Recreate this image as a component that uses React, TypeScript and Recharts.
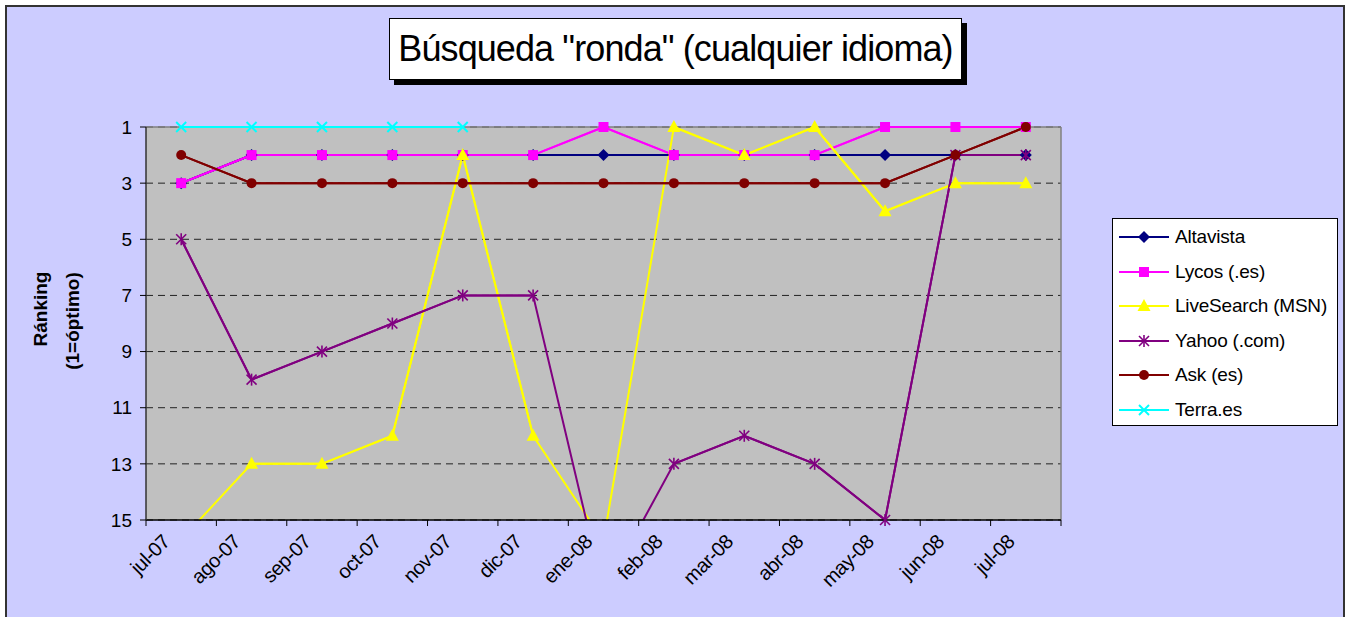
import { LineChart, Line, XAxis, YAxis, CartesianGrid, Legend } from 'recharts';

const months = ['jul-07', 'ago-07', 'sep-07', 'oct-07', 'nov-07', 'dic-07', 'ene-08', 'feb-08', 'mar-08', 'abr-08', 'may-08', 'jun-08', 'jul-08'];
const altavista = [3, 2, 2, 2, 2, 2, 2, 2, 2, 2, 2, 2, 2];
const lycos = [3, 2, 2, 2, 2, 2, 1, 2, 2, 2, 1, 1, 1];
const liveSearch = [15.7, 13, 13, 12, 2, 12, 15.75, 1, 2, 1, 4, 3, 3];
const yahoo = [5, 10, 9, 8, 7, 7, 17.6, 13, 12, 13, 15, 2, 2];
const ask = [2, 3, 3, 3, 3, 3, 3, 3, 3, 3, 3, 2, 1];
const terra = [1, 1, 1, 1, 1, 0, null, null, null, null, null, null, null];
const yTicks = [1, 3, 5, 7, 9, 11, 13, 15];

const FONT = "'Liberation Sans', Arial, sans-serif";
const PLOT_L = 146;
const PLOT_R = 1061;
const PLOT_T = 127;
const BAND = (PLOT_R - PLOT_L) / months.length;

type Shape = 'diamond' | 'square' | 'triangle' | 'star' | 'circle' | 'cross';

const SERIES: { key: string; name: string; color: string; shape: Shape; values: (number | null)[] }[] = [
  { key: 'altavista', name: 'Altavista', color: '#000080', shape: 'diamond', values: altavista },
  { key: 'lycos', name: 'Lycos (.es)', color: '#FF00FF', shape: 'square', values: lycos },
  { key: 'liveSearch', name: 'LiveSearch (MSN)', color: '#FFFF00', shape: 'triangle', values: liveSearch },
  { key: 'yahoo', name: 'Yahoo (.com)', color: '#800080', shape: 'star', values: yahoo },
  { key: 'ask', name: 'Ask (es)', color: '#800000', shape: 'circle', values: ask },
  { key: 'terra', name: 'Terra.es', color: '#00FFFF', shape: 'cross', values: terra },
];

// in-range copy of each series: drawn unclipped (markers + segments on the plot edge),
// the full series is drawn on the clipped axis for the parts that leave the plot
const inRange = (v: number | null) => (v != null && v >= 1 && v <= 15 ? v : null);

const data = months.map((month, i) => {
  const row: any = { month };
  SERIES.forEach((s) => {
    row[s.key] = s.values[i];
    row[s.key + '_m'] = inRange(s.values[i]);
  });
  return row;
});

function Marker({ cx, cy, shape, color }: { cx: number; cy: number; shape: Shape; color: string }) {
  switch (shape) {
    case 'diamond':
      return <polygon points={`${cx},${cy - 6} ${cx + 6},${cy} ${cx},${cy + 6} ${cx - 6},${cy}`} fill={color} />;
    case 'square':
      return <rect x={cx - 5} y={cy - 5} width={10} height={10} fill={color} />;
    case 'triangle':
      return <polygon points={`${cx},${cy - 7} ${cx + 6.5},${cy + 5} ${cx - 6.5},${cy + 5}`} fill={color} />;
    case 'star':
      return (
        <g stroke={color} strokeWidth={1.6}>
          <line x1={cx - 5} y1={cy - 5} x2={cx + 5} y2={cy + 5} />
          <line x1={cx - 5} y1={cy + 5} x2={cx + 5} y2={cy - 5} />
          <line x1={cx} y1={cy - 6} x2={cx} y2={cy + 6} />
        </g>
      );
    case 'circle':
      return <circle cx={cx} cy={cy} r={5} fill={color} />;
    case 'cross':
      return (
        <g stroke={color} strokeWidth={2}>
          <line x1={cx - 5} y1={cy - 5} x2={cx + 5} y2={cy + 5} />
          <line x1={cx - 5} y1={cy + 5} x2={cx + 5} y2={cy - 5} />
        </g>
      );
  }
  return null;
}

const makeDot = (shape: Shape, color: string) => (p: any) => {
  if (p.cy == null || p.value == null) return <g key={p.index} />;
  return (
    <g key={p.index}>
      <Marker cx={p.cx} cy={p.cy} shape={shape} color={color} />
    </g>
  );
};

function MonthTick(props: any) {
  const { x, y, payload, index } = props;
  const tx = x - 15;
  const ty = y + 18;
  return (
    <g>
      <line x1={x - BAND / 2} y1={y} x2={x - BAND / 2} y2={y + 6} stroke="#000" />
      {index === months.length - 1 && <line x1={x + BAND / 2} y1={y} x2={x + BAND / 2} y2={y + 6} stroke="#000" />}
      <text
        x={tx}
        y={ty}
        transform={`rotate(-45 ${tx} ${ty})`}
        textAnchor="end"
        dominantBaseline="central"
        fontSize={20}
        letterSpacing={-0.5}
        fontFamily={FONT}
        fill="#000"
      >
        {payload.value}
      </text>
    </g>
  );
}

const LegendBox = () => (
  <div
    style={{
      width: 226,
      height: 208,
      boxSizing: 'border-box',
      border: '1px solid #000',
      background: '#fff',
      position: 'relative',
      fontFamily: FONT,
      fontSize: 19,
    }}
  >
    {SERIES.map((s, i) => (
      <div key={s.key} style={{ position: 'absolute', left: 5, top: 6 + i * 34.6, height: 24, display: 'flex', alignItems: 'center' }}>
        <svg width={52} height={24} style={{ display: 'block' }}>
          <line x1={1} y1={12} x2={51} y2={12} stroke={s.color} strokeWidth={2} />
          <Marker cx={26} cy={12} shape={s.shape} color={s.color} />
        </svg>
        <span style={{ marginLeft: 5, whiteSpace: 'nowrap', color: '#000', lineHeight: '24px', letterSpacing: -0.2 }}>{s.name}</span>
      </div>
    ))}
  </div>
);

export default function App() {
  return (
    <div style={{ position: 'absolute', left: 0, top: 0, width: 1350, height: 617, overflow: 'hidden', background: '#fff' }}>
      <div
        style={{
          position: 'absolute',
          left: 5,
          top: 5,
          width: 1340,
          height: 700,
          boxSizing: 'border-box',
          border: '2px solid #333',
          background: '#CCCCFF',
        }}
      />
      <div style={{ position: 'absolute', left: 0, top: 0 }}>
        <LineChart width={1350} height={617} data={data} margin={{ top: PLOT_T, right: 1350 - PLOT_R, bottom: 37, left: PLOT_L - 60 }}>
          <CartesianGrid yAxisId="main" vertical={false} fill="#C0C0C0" stroke="#222" strokeDasharray="7 5" />
          {/* plot area frame: grey top and right edges */}
          <CartesianGrid
            yAxisId="main"
            horizontalPoints={[PLOT_T]}
            verticalPoints={[PLOT_R]}
            stroke="#808080"
            strokeWidth={1.5}
          />
          <XAxis
            dataKey="month"
            interval={0}
            height={60}
            padding={{ left: BAND / 2, right: BAND / 2 }}
            tickLine={false}
            tickSize={0}
            tickMargin={0}
            axisLine={{ stroke: '#000', strokeWidth: 1.5 }}
            tick={<MonthTick />}
          />
          <YAxis
            yAxisId="main"
            width={60}
            reversed
            domain={[1, 15]}
            ticks={yTicks}
            allowDataOverflow
            interval={0}
            tickSize={6}
            tickMargin={8}
            axisLine={{ stroke: '#333', strokeWidth: 1.5 }}
            tickLine={{ stroke: '#000' }}
            tick={{ fontSize: 19, fontFamily: FONT, fill: '#000' }}
          />
          <YAxis yAxisId="marks" hide reversed domain={[1, 15]} />
          {SERIES.flatMap((s) => [
            <Line
              key={s.key}
              yAxisId="main"
              type="linear"
              dataKey={s.key}
              name={s.name}
              stroke={s.color}
              strokeWidth={2}
              dot={false}
              activeDot={false}
              isAnimationActive={false}
            />,
            <Line
              key={s.key + '_m'}
              yAxisId="marks"
              type="linear"
              dataKey={s.key + '_m'}
              stroke={s.color}
              strokeWidth={2}
              legendType="none"
              dot={makeDot(s.shape, s.color)}
              activeDot={false}
              isAnimationActive={false}
            />,
          ])}
          <Legend
            layout="horizontal"
            verticalAlign="middle"
            align="center"
            wrapperStyle={{ position: 'absolute', left: 1112, top: 218, width: 226, height: 208, margin: 0 }}
            content={() => <LegendBox />}
          />
        </LineChart>
      </div>
      <div
        style={{
          position: 'absolute',
          left: 389,
          top: 18,
          width: 573,
          height: 62,
          boxSizing: 'border-box',
          border: '1px solid #000',
          background: '#fff',
          boxShadow: '5px 5px 0 #000',
          fontFamily: FONT,
          fontSize: 36,
          letterSpacing: -0.9,
          lineHeight: '60px',
          textAlign: 'center',
          color: '#000',
          whiteSpace: 'nowrap',
        }}
      >
        Búsqueda "ronda" (cualquier idioma)
      </div>
      <svg width={120} height={617} style={{ position: 'absolute', left: 0, top: 0 }}>
        <text x={40} y={309} transform="rotate(-90 40 309)" textAnchor="middle" dominantBaseline="central" fontFamily={FONT} fontWeight="bold" fontSize={19}>
          Ránking
        </text>
        <text x={72} y={321} transform="rotate(-90 72 321)" textAnchor="middle" dominantBaseline="central" fontFamily={FONT} fontWeight="bold" fontSize={19}>
          (1=óptimo)
        </text>
      </svg>
    </div>
  );
}
